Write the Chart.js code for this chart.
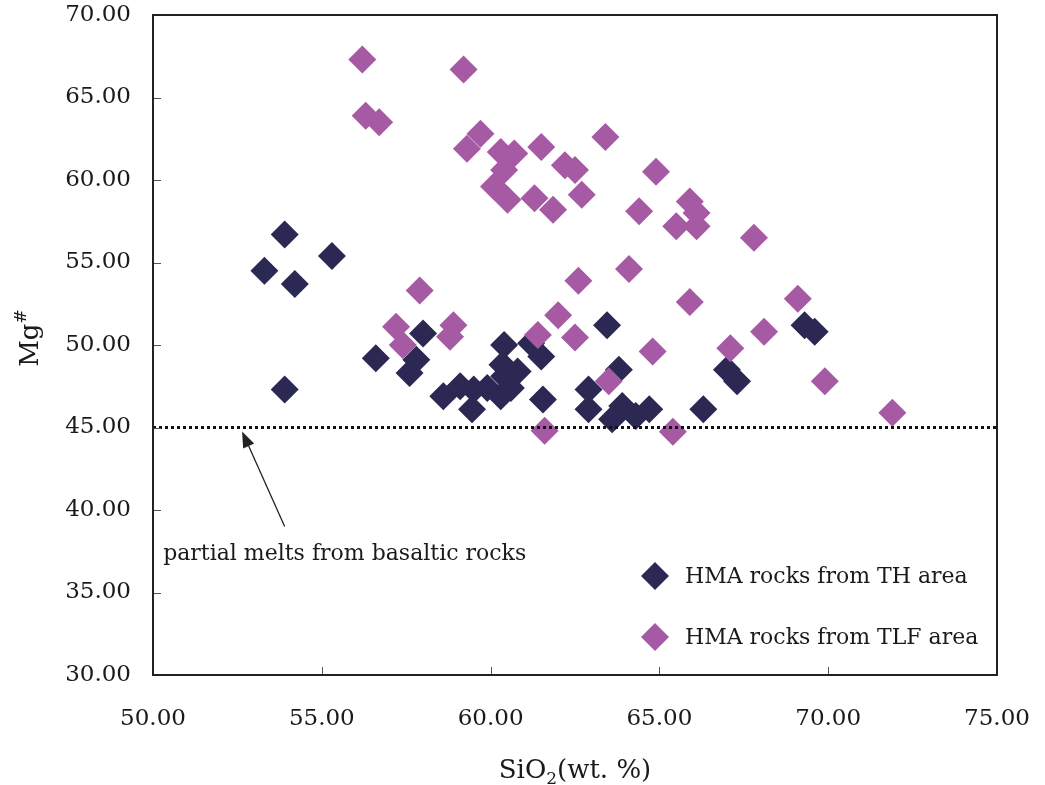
<!DOCTYPE html>
<html>
<head>
<meta charset="utf-8">
<script src="https://cdn.jsdelivr.net/npm/chart.js@4/dist/chart.umd.min.js"></script>
<style>
  html, body { margin: 0; padding: 0; background: #ffffff; }
  #wrap { width: 1045px; height: 785px; position: relative; }
</style>
</head>
<body>
<div id="wrap"><canvas id="c" width="1045" height="785"></canvas></div>
<script>
// ---- Data ----
const thSiO2 = [53.3, 53.9, 54.2, 55.3, 53.9, 56.6, 58.0, 57.8, 57.6, 58.6, 59.1, 59.45, 59.5, 59.9, 60.3, 60.4, 60.35, 60.4, 60.8, 60.6, 61.2, 61.5, 61.55, 63.45, 63.8, 62.9, 62.9, 63.6, 63.9, 64.3, 64.7, 66.3, 67.0, 67.3, 69.3, 69.6];
const thMg   = [54.5, 56.7, 53.7, 55.4, 47.3, 49.2, 50.7, 49.1, 48.3, 46.9, 47.5, 46.1, 47.3, 47.4, 46.9, 48.1, 48.8, 50.0, 48.4, 47.4, 50.1, 49.3, 46.7, 51.2, 48.5, 47.3, 46.1, 45.5, 46.3, 45.7, 46.1, 46.1, 48.5, 47.8, 51.2, 50.8];

const tlfSiO2 = [56.2, 56.3, 56.7, 59.2, 59.3, 59.7, 60.3, 60.7, 60.4, 60.1, 60.5, 61.3, 61.85, 61.5, 62.2, 62.5, 62.7, 63.4, 64.4, 64.9, 65.9, 66.1, 65.5, 66.1, 67.8, 64.1, 65.9, 69.1, 68.1, 64.8, 67.1, 62.6, 62.0, 57.2, 57.4, 58.9, 58.8, 61.4, 61.6, 57.9, 62.5, 63.5, 65.4, 69.9, 71.9];
const tlfMg   = [67.3, 63.9, 63.5, 66.7, 61.9, 62.8, 61.7, 61.6, 60.6, 59.6, 58.8, 58.9, 58.2, 62.0, 60.9, 60.6, 59.1, 62.6, 58.1, 60.5, 58.7, 58.0, 57.2, 57.2, 56.5, 54.6, 52.6, 52.8, 50.8, 49.6, 49.8, 53.9, 51.8, 51.1, 50.0, 51.2, 50.5, 50.6, 44.8, 53.3, 50.45, 47.8, 44.75, 47.8, 45.9];

const seriesNames = ["HMA rocks from TH area", "HMA rocks from TLF area"];
const xTicks = [50, 55, 60, 65, 70, 75];
const yTicks = [30, 35, 40, 45, 50, 55, 60, 65, 70];
const refLineX = [50, 75];
const refLineY = [45, 45];
const noteText = "partial melts from basaltic rocks";
const notePos = [50.3, 37.3];
const arrowFrom = [53.9, 39.0];
const arrowTo = [52.64, 44.76];
const legendPos = [[64.87, 36.0], [64.87, 32.3]];

// ---- Styling ----
const NAVY = '#2c2854';
const PURPLE = '#a65aa3';
const TXT = '#1a1a1a';
const SERIF = '"DejaVu Serif", "Liberation Serif", serif';

const toPts = (xs, ys) => xs.map((x, i) => ({ x: x, y: ys[i] }));

const framePlugin = {
  id: 'frame',
  afterDraw(chart) {
    const ctx = chart.ctx;
    const xs = chart.scales.x, ys = chart.scales.y;
    const a = chart.chartArea;
    ctx.save();
    // inward tick marks
    ctx.strokeStyle = '#555';
    ctx.lineWidth = 1;
    ctx.beginPath();
    yTicks.forEach(v => {
      const py = Math.round(ys.getPixelForValue(v)) + 0.5;
      ctx.moveTo(a.left, py); ctx.lineTo(a.left + 8, py);
    });
    xTicks.forEach(v => {
      const px = Math.round(xs.getPixelForValue(v)) + 0.5;
      ctx.moveTo(px, a.bottom); ctx.lineTo(px, a.bottom - 8);
    });
    ctx.stroke();
    // box
    ctx.strokeStyle = '#222';
    ctx.lineWidth = 2;
    ctx.strokeRect(a.left, a.top, a.right - a.left, a.bottom - a.top);

    // tick labels
    ctx.fillStyle = TXT;
    ctx.font = '23px ' + SERIF;
    ctx.textBaseline = 'middle';
    ctx.textAlign = 'right';
    yTicks.forEach(v => ctx.fillText(v.toFixed(2), 131, ys.getPixelForValue(v)));
    ctx.textAlign = 'center';
    xTicks.forEach(v => ctx.fillText(v.toFixed(2), xs.getPixelForValue(v), 719));

    // arrow
    const fx = xs.getPixelForValue(arrowFrom[0]), fy = ys.getPixelForValue(arrowFrom[1]);
    const tx = xs.getPixelForValue(arrowTo[0]), ty = ys.getPixelForValue(arrowTo[1]);
    const ang = Math.atan2(ty - fy, tx - fx);
    const hl = 16, hw = 6;
    const bx = tx - hl * Math.cos(ang), by = ty - hl * Math.sin(ang);
    ctx.strokeStyle = '#222';
    ctx.lineWidth = 1.3;
    ctx.beginPath(); ctx.moveTo(fx, fy); ctx.lineTo(bx, by); ctx.stroke();
    ctx.fillStyle = '#222';
    ctx.beginPath();
    ctx.moveTo(tx, ty);
    ctx.lineTo(bx + hw * Math.sin(ang), by - hw * Math.cos(ang));
    ctx.lineTo(bx - hw * Math.sin(ang), by + hw * Math.cos(ang));
    ctx.closePath(); ctx.fill();

    // annotation text
    ctx.fillStyle = TXT;
    ctx.font = '22px ' + SERIF;
    ctx.textAlign = 'left';
    ctx.textBaseline = 'middle';
    ctx.fillText(noteText, xs.getPixelForValue(notePos[0]), ys.getPixelForValue(notePos[1]));

    // legend
    const cols = [NAVY, PURPLE];
    legendPos.forEach((p, i) => {
      const cx = xs.getPixelForValue(p[0]), cy = ys.getPixelForValue(p[1]);
      ctx.fillStyle = cols[i];
      ctx.beginPath();
      ctx.moveTo(cx - 14, cy); ctx.lineTo(cx, cy - 14); ctx.lineTo(cx + 14, cy); ctx.lineTo(cx, cy + 14);
      ctx.closePath(); ctx.fill();
      ctx.fillStyle = TXT;
      ctx.font = '22px ' + SERIF;
      ctx.fillText(seriesNames[i], cx + 30, cy + 1);
    });

    // x-axis title: SiO2(wt. %)
    ctx.fillStyle = TXT;
    ctx.textBaseline = 'alphabetic';
    const big = '26px ' + SERIF, small = '17px ' + SERIF;
    ctx.font = big; const w1 = ctx.measureText('SiO').width;
    ctx.font = small; const w2 = ctx.measureText('2').width;
    ctx.font = big; const w3 = ctx.measureText('(wt. %)').width;
    const total = w1 + w2 + w3;
    let x0 = 575 - total / 2; const base = 778;
    ctx.textAlign = 'left';
    ctx.font = big; ctx.fillText('SiO', x0, base);
    ctx.font = small; ctx.fillText('2', x0 + w1, base + 6);
    ctx.font = big; ctx.fillText('(wt. %)', x0 + w1 + w2, base);

    // y-axis title: Mg#
    ctx.save();
    ctx.translate(38, 338);
    ctx.rotate(-Math.PI / 2);
    ctx.font = big; const m1 = ctx.measureText('Mg').width;
    ctx.font = small; const m2 = ctx.measureText('#').width;
    const mx = -(m1 + m2) / 2;
    ctx.font = big; ctx.fillText('Mg', mx, 0);
    ctx.font = small; ctx.fillText('#', mx + m1, -12);
    ctx.restore();

    ctx.restore();
  }
};

new Chart(document.getElementById('c'), {
  type: 'scatter',
  data: {
    datasets: [
      {
        label: seriesNames[0],
        data: toPts(thSiO2, thMg),
        pointStyle: 'rectRot',
        pointRadius: 14,
        pointHoverRadius: 14,
        backgroundColor: NAVY,
        borderWidth: 0,
        order: 2
      },
      {
        label: seriesNames[1],
        data: toPts(tlfSiO2, tlfMg),
        pointStyle: 'rectRot',
        pointRadius: 14,
        pointHoverRadius: 14,
        backgroundColor: PURPLE,
        borderWidth: 0,
        order: 1
      },
      {
        type: 'line',
        label: 'ref',
        data: toPts(refLineX, refLineY),
        borderColor: '#111',
        borderWidth: 3,
        borderDash: [3, 3],
        pointRadius: 0,
        fill: false,
        order: 0
      }
    ]
  },
  options: {
    responsive: false,
    animation: false,
    events: [],
    layout: { padding: { left: 0, top: 15, right: 48, bottom: 0 } },
    plugins: { legend: { display: false }, tooltip: { enabled: false } },
    scales: {
      x: {
        type: 'linear', min: 50, max: 75,
        afterBuildTicks: s => { s.ticks = xTicks.map(v => ({ value: v })); },
        afterFit: s => { s.height = 110; },
        grid: { display: false, drawTicks: false },
        border: { display: false },
        ticks: { display: false }
      },
      y: {
        type: 'linear', min: 30, max: 70,
        afterBuildTicks: s => { s.ticks = yTicks.map(v => ({ value: v })); },
        afterFit: s => { s.width = 153; },
        grid: { display: false, drawTicks: false },
        border: { display: false },
        ticks: { display: false }
      }
    }
  },
  plugins: [framePlugin]
});
</script>
</body>
</html>
